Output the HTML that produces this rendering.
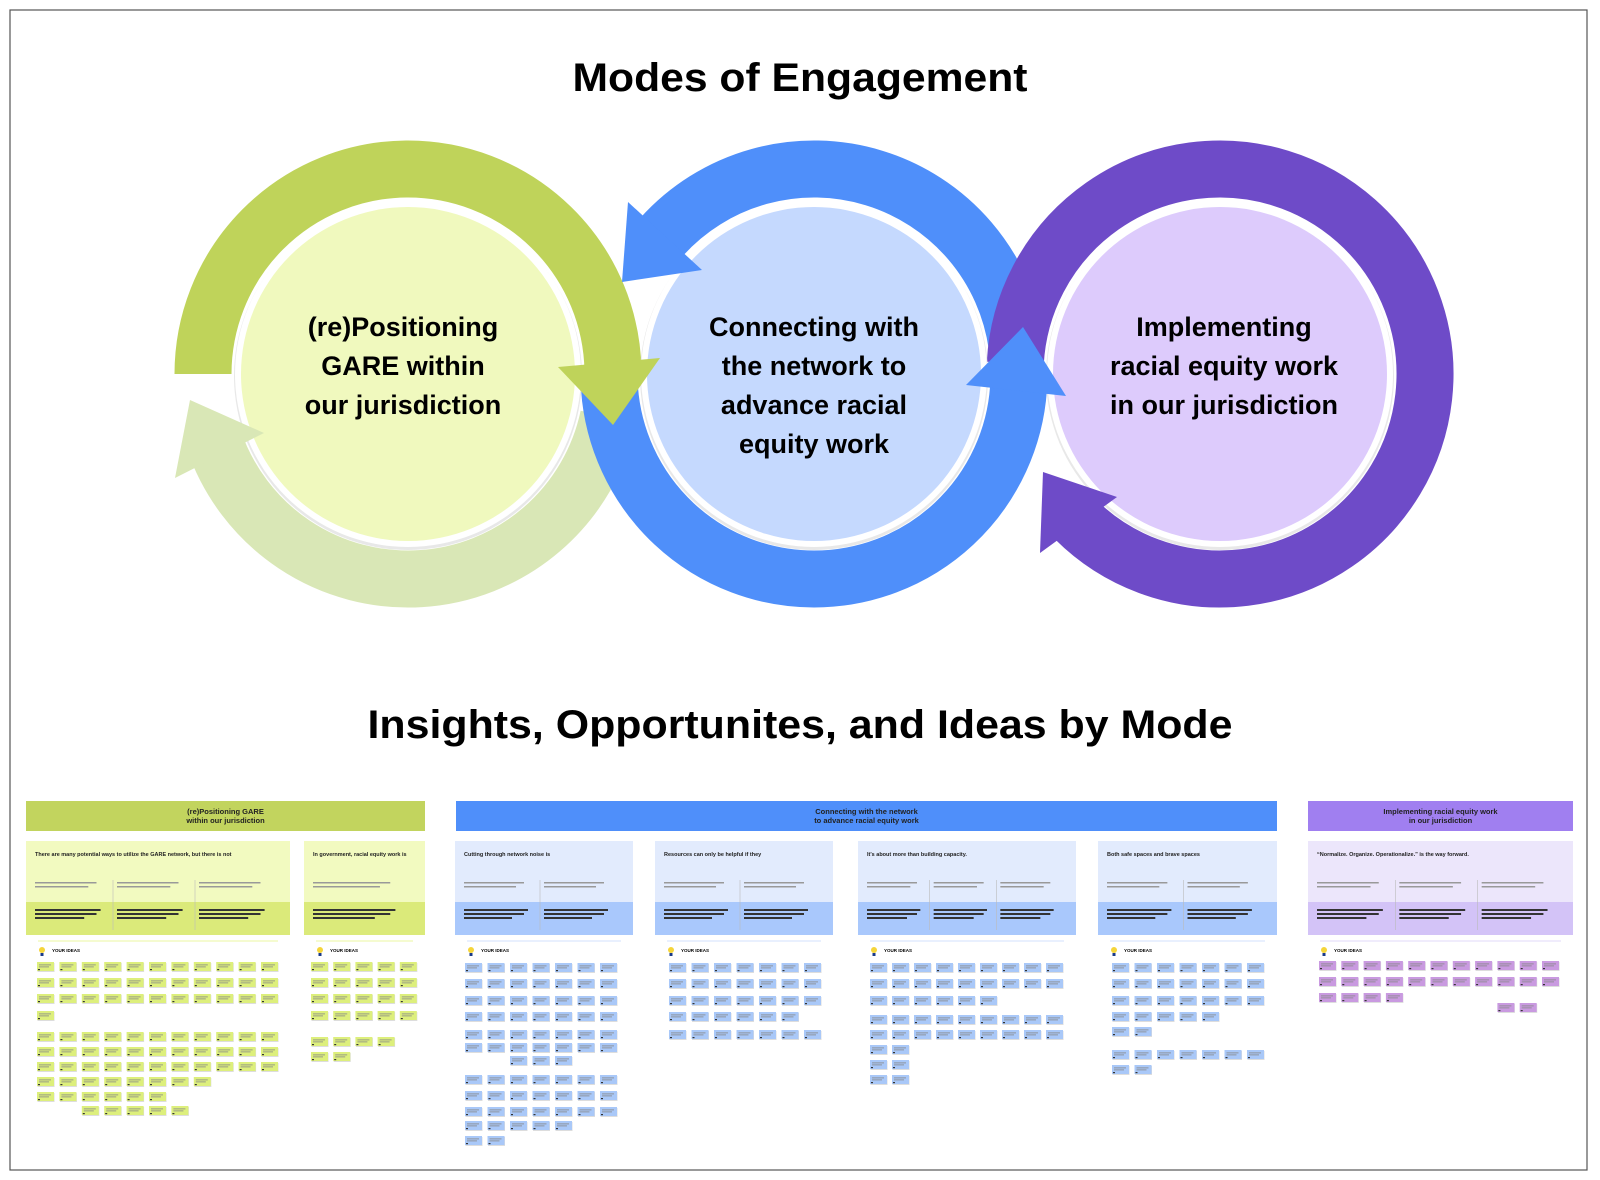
<!DOCTYPE html>
<html><head><meta charset="utf-8">
<style>
html,body{margin:0;padding:0;background:#fff;}
svg{display:block;}
</style></head>
<body>
<svg id="s" width="1600" height="1180" viewBox="0 0 1600 1180" xmlns="http://www.w3.org/2000/svg" font-family="Liberation Sans, sans-serif">
<rect x="10" y="10" width="1577" height="1160" fill="#fff" stroke="#555" stroke-width="1.2"/>
<text x="800" y="91" text-anchor="middle" font-size="40" font-weight="bold" textLength="455" lengthAdjust="spacingAndGlyphs">Modes of Engagement</text>
<g id="dia"></g>
<text x="800" y="738" text-anchor="middle" font-size="40" font-weight="bold" textLength="865" lengthAdjust="spacingAndGlyphs">Insights, Opportunites, and Ideas by Mode</text>
<g id="boards"></g>
</svg>
<script>
var NS="http://www.w3.org/2000/svg";
function el(p,t,a,txt){var e=document.createElementNS(NS,t);for(var k in a)e.setAttribute(k,a[k]);if(txt!=null)e.textContent=txt;p.appendChild(e);return e;}
function pt(cx,cy,r,a){a=a*Math.PI/180;return [cx+r*Math.cos(a),cy+r*Math.sin(a)];}
function arc(g,cx,cy,r,a1,a2,col){
  var p1=pt(cx,cy,r,a1),p2=pt(cx,cy,r,a2);
  var sweep=a2>a1?1:0;var large=Math.abs(a2-a1)>180?1:0;
  el(g,"path",{d:"M"+p1[0]+" "+p1[1]+" A"+r+" "+r+" 0 "+large+" "+sweep+" "+p2[0]+" "+p2[1],fill:"none",stroke:col,"stroke-width":57});
}
function tri(g,pts,col){el(g,"polygon",{points:pts,fill:col});}
var d=document.getElementById("dia");
var G=[408,374],B=[814,374],P=[1220,374],R=205;
var LG="#d9e7b6",DG="#bfd35a",BL="#4f8ffa",PU="#6e4bc8";
arc(d,G[0],G[1],R,12,161,LG);
arc(d,G[0],G[1],R,180,359,DG);
arc(d,B[0],B[1],R,352,222,BL);
arc(d,P[0],P[1],R,183,495,PU);
arc(d,B[0],B[1],R,176,4,BL);
[[G,"#f0f9be"],[B,"#c5d9fe"],[P,"#ddcbfc"]].forEach(function(c){
  el(d,"circle",{cx:c[0][0],cy:c[0][1]+2,r:174,fill:"#e8e8e8"});
  el(d,"circle",{cx:c[0][0],cy:c[0][1],r:173,fill:"#fff"});
  el(d,"circle",{cx:c[0][0],cy:c[0][1],r:167,fill:c[1]});
});
tri(d,"264,433 175,478 190,400",LG);
tri(d,"1117,497 1040,553 1043,472",PU);
tri(d,"628,202 702,270 622,282",BL);
tri(d,"966,385 1066,396 1023,327",BL);
tri(d,"558,367 660,358 613,425",DG);
function lines(cx,y0,arr){arr.forEach(function(t,i){el(d,"text",{x:cx,y:y0+i*39,"text-anchor":"middle","font-size":27,"font-weight":"bold"},t);});}
lines(403,336,["(re)Positioning","GARE within","our jurisdiction"]);
lines(814,336,["Connecting with","the network to","advance racial","equity work"]);
lines(1224,336,["Implementing","racial equity work","in our jurisdiction"]);

var b=document.getElementById("boards");
function header(x1,x2,col,l1,l2){
  el(b,"rect",{x:x1,y:801,width:x2-x1,height:30,fill:col});
  el(b,"text",{x:(x1+x2)/2,y:814,"text-anchor":"middle","font-size":7.5,"font-weight":"bold",fill:"#222"},l1);
  el(b,"text",{x:(x1+x2)/2,y:823,"text-anchor":"middle","font-size":7.5,"font-weight":"bold",fill:"#222"},l2);
}
function card(x1,x2,top,bot,ncol,title){
  el(b,"rect",{x:x1,y:841,width:x2-x1,height:61,fill:top});
  el(b,"rect",{x:x1,y:902,width:x2-x1,height:33,fill:bot});
  el(b,"text",{x:x1+9,y:856,"font-size":5.5,"font-weight":"bold",fill:"#222"},title);
  var w=(x2-x1-18)/ncol;
  for(var i=0;i<ncol;i++){
    var xx=x1+9+i*w;
    if(i>0){el(b,"line",{x1:xx-4,y1:880,x2:xx-4,y2:930,stroke:"#bbb","stroke-width":0.6});}
    el(b,"rect",{x:xx,y:882,width:w*0.75,height:1.5,fill:"#999"});
    el(b,"rect",{x:xx,y:886,width:w*0.65,height:1.5,fill:"#999"});
    el(b,"rect",{x:xx,y:909,width:w*0.8,height:2,fill:"#333"});
    el(b,"rect",{x:xx,y:913,width:w*0.75,height:2,fill:"#333"});
    el(b,"rect",{x:xx,y:917,width:w*0.6,height:2,fill:"#333"});
  }
  el(b,"line",{x1:x1+12,y1:941,x2:x2-12,y2:941,stroke:top,"stroke-width":1.5});
  el(b,"circle",{cx:x1+16,cy:950,r:3,fill:"#f5d53a"});
  el(b,"rect",{x:x1+14.5,y:953,width:3,height:3,fill:"#1a3a8a"});
  el(b,"text",{x:x1+26,y:952,"font-size":4.5,"font-weight":"bold"},"YOUR IDEAS");
}
function stickies(x0,dx,ncol,rows,col){
  rows.forEach(function(r){
    var y=r[0],n=r[1]||ncol,off=r[2]||0;
    for(var i=0;i<n;i++){
      var x=x0+(i+off)*dx;
      el(b,"rect",{x:x+0.5,y:y+1,width:17,height:9,fill:"#ddd"});
      el(b,"rect",{x:x,y:y,width:17,height:9,fill:col});
      el(b,"rect",{x:x+2,y:y+2.5,width:12,height:0.8,fill:"#888"});
      el(b,"rect",{x:x+2,y:y+4.5,width:10,height:0.8,fill:"#888"});
      el(b,"rect",{x:x+1,y:y+7,width:2,height:1.2,fill:"#333"});
    }
  });
}
var GS="#ddef7c",BS="#a9c8f8",PS="#c99ae0";
header(26,425,"#c2d45e","(re)Positioning GARE","within our jurisdiction");
card(26,290,"#f2fac0","#dbea7a",3,"There are many potential ways to utilize the GARE network, but there is not");
card(304,425,"#f2fac0","#dbea7a",1,"In government, racial equity work is");
stickies(37,22.4,11,[[962],[978],[994],[1011,1],[1032],[1047],[1062],[1077,8],[1092,6],[1106,5,2]],GS);
stickies(311,22.2,5,[[962],[978],[994],[1011],[1037,4],[1052,2]],GS);
header(456,1277,"#4f8ffa","Connecting with the network","to advance racial equity work");
card(455,633,"#e2ebfd","#a9c8fc",2,"Cutting through network noise is");
card(655,833,"#e2ebfd","#a9c8fc",2,"Resources can only be helpful if they");
card(858,1076,"#e2ebfd","#a9c8fc",3,"It's about more than building capacity.");
card(1098,1277,"#e2ebfd","#a9c8fc",2,"Both safe spaces and brave spaces");
stickies(465,22.5,7,[[963],[979],[996],[1012],[1030],[1043],[1056,3,2],[1075],[1091],[1107],[1121,5],[1136,2]],BS);
stickies(669,22.5,7,[[963],[979],[996],[1012,3],[1012,3,3],[1030]],BS);
stickies(870,22,9,[[963],[979],[996,6],[1015],[1030],[1045,2],[1060,2],[1075,2]],BS);
stickies(1112,22.5,7,[[963],[979],[996],[1012,5],[1027,2],[1050],[1065,2]],BS);
header(1308,1573,"#a07ff0","Implementing racial equity work","in our jurisdiction");
card(1308,1573,"#ece6fb","#d3c3f7",3,"\u201cNormalize. Organize. Operationalize.\u201d is the way forward.");
stickies(1319,22.3,11,[[961],[977],[993,4],[1003,2,8]],PS);
</script>
</body></html>
